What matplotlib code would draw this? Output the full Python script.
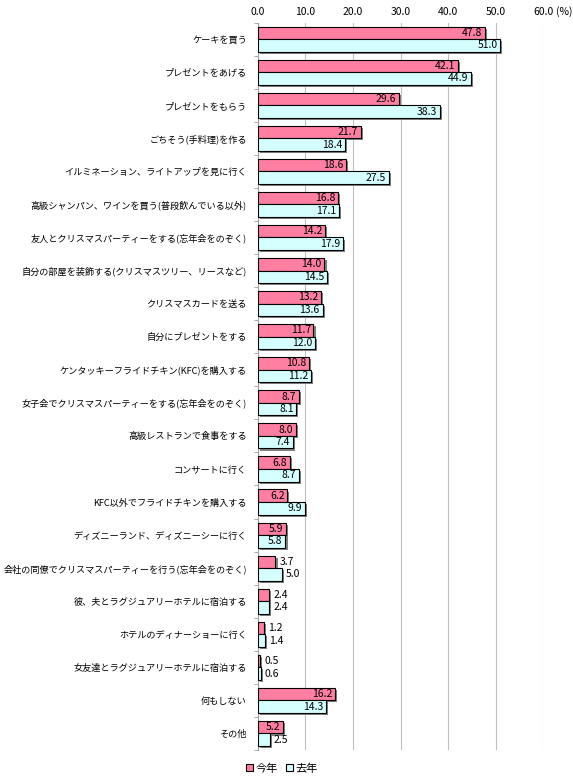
import numpy as np
import matplotlib
matplotlib.use("Agg")
import matplotlib.pyplot as plt
import matplotlib.patheffects as pe
from matplotlib.patches import Patch

plt.rcParams['font.family'] = ['Noto Sans CJK JP', 'DejaVu Sans']

#%% --- Data ---
categories = ["ケーキを買う", "プレゼントをあげる", "プレゼントをもらう",
              "ごちそう(手料理)を作る", "イルミネーション、ライトアップを見に行く",
              "高級シャンパン、ワインを買う(普段飲んでいる以外)",
              "友人とクリスマスパーティーをする(忘年会をのぞく)",
              "自分の部屋を装飾する(クリスマスツリー、リースなど)",
              "クリスマスカードを送る", "自分にプレゼントをする",
              "ケンタッキーフライドチキン(KFC)を購入する",
              "女子会でクリスマスパーティーをする(忘年会をのぞく)",
              "高級レストランで食事をする", "コンサートに行く",
              "KFC以外でフライドチキンを購入する",
              "ディズニーランド、ディズニーシーに行く",
              "会社の同僚でクリスマスパーティーを行う(忘年会をのぞく)",
              "彼、夫とラグジュアリーホテルに宿泊する",
              "ホテルのディナーショーに行く",
              "女友達とラグジュアリーホテルに宿泊する",
              "何もしない", "その他"]
this_year = [47.8, 42.1, 29.6, 21.7, 18.6, 16.8, 14.2, 14.0, 13.2, 11.7, 10.8,
             8.7, 8.0, 6.8, 6.2, 5.9, 3.7, 2.4, 1.2, 0.5, 16.2, 5.2]
last_year = [51.0, 44.9, 38.3, 18.4, 27.5, 17.1, 17.9, 14.5, 13.6, 12.0, 11.2,
             8.1, 7.4, 8.7, 9.9, 5.8, 5.0, 2.4, 1.4, 0.6, 14.3, 2.5]
series_names = ["今年", "去年"]
xticks = [0, 10, 20, 30, 40, 50, 60]

#%% --- Figure ---
pink = "#FF7FA2"
cyan = "#D5FFFF"

fig = plt.figure(figsize=(5.73, 7.78), dpi=100)
ax = fig.add_axes([0.450, 0.036, 0.498, 0.935])

n = len(categories)
y = np.arange(n)
h = 0.38
shadow = [pe.SimplePatchShadow(offset=(1.5, -1.5), shadow_rgbFace="#808080", alpha=1.0), pe.Normal()]

b1 = ax.barh(y - h / 2, this_year, height=h, color=pink, edgecolor="black", linewidth=0.8, zorder=3)
b2 = ax.barh(y + h / 2, last_year, height=h, color=cyan, edgecolor="black", linewidth=0.8, zorder=3)
for bars in (b1, b2):
    for r in bars:
        r.set_path_effects(shadow)

# value labels: inside the bar end if wide enough, otherwise to the right
def add_labels(bars, vals):
    for r, v in zip(bars, vals):
        yc = r.get_y() + r.get_height() / 2
        if v > 5.1:
            ax.annotate("{:.1f}".format(v), (v, yc), xytext=(-2, 0), textcoords="offset points",
                        ha="right", va="center", fontsize=7.5, zorder=5)
        else:
            ax.annotate("{:.1f}".format(v), (v, yc), xytext=(3, 0),
                        textcoords="offset points", ha="left", va="center", fontsize=7.5, zorder=5)

add_labels(b1, this_year)
add_labels(b2, last_year)

ax.set_xlim(0, 60)
ax.set_ylim(n - 0.5, -0.5)
ax.xaxis.tick_top()
ax.set_xticks(xticks)
ax.set_xticklabels(["{:.1f}".format(t) for t in xticks], fontsize=7.5)
ax.tick_params(axis="x", length=0, pad=4)
ax.annotate("(%)", (60, -0.5), xytext=(9, 4), textcoords="offset points",
            fontsize=7.5, ha="left", va="bottom", annotation_clip=False)

ax.set_yticks(y)
ax.set_yticklabels(categories, fontsize=6.6)
ax.set_yticks(np.arange(n + 1) - 0.5, minor=True)
ax.tick_params(axis="y", which="major", length=0, pad=8)
ax.tick_params(axis="y", which="minor", length=3, color="#a0a0a0", direction="out")

ax.grid(axis="x", color="#c0c0c0", linewidth=0.8, zorder=0)
for s in ["top", "right", "bottom"]:
    ax.spines[s].set_visible(False)
ax.spines["left"].set_color("#a0a0a0")

handles = [Patch(facecolor=pink, edgecolor="black", linewidth=0.8),
           Patch(facecolor=cyan, edgecolor="black", linewidth=0.8)]
fig.legend(handles, series_names, loc="center", bbox_to_anchor=(0.492, 0.012), ncol=2, frameon=False,
           fontsize=8, handlelength=0.6, handleheight=0.6, handletextpad=0.2, columnspacing=0.8)

plt.savefig("out.png", dpi=100)
